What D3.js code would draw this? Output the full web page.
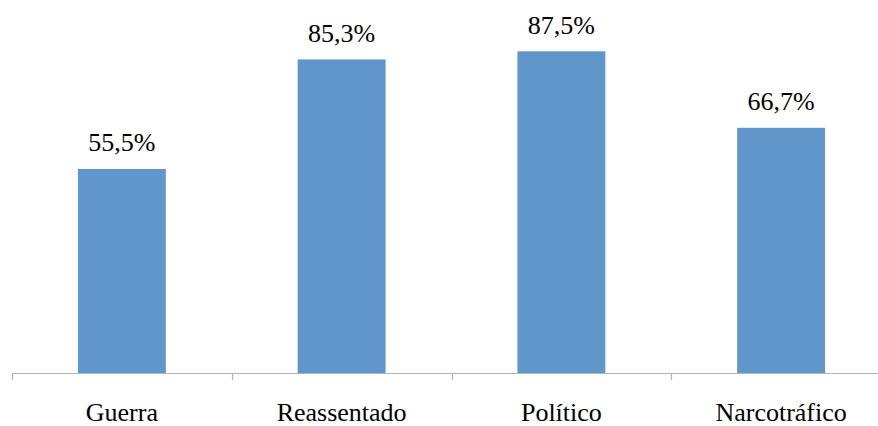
<!DOCTYPE html>
<html><head><meta charset="utf-8">
<script src="https://cdn.jsdelivr.net/npm/d3@7"></script>
<style>body{margin:0;background:#fff}svg{display:block}</style>
</head><body>
<script>
const categories = ["Guerra", "Reassentado", "Político", "Narcotráfico"];
const values = [55.5, 85.3, 87.5, 66.7];
const labels = ["55,5%", "85,3%", "87,5%", "66,7%"];

const W = 878, H = 426;
const FONT = "Liberation Serif";
const svg = d3.select("body").append("svg").attr("width", W).attr("height", H);
const x = d3.scaleBand().domain(categories).range([12, 891]).paddingInner(0).paddingOuter(0);
const y = d3.scaleLinear().domain([0, 100]).range([373, 5.4]);

const barW = x.bandwidth() * 0.4;
svg.selectAll("rect.bar").data(values).join("rect")
  .attr("class", "bar")
  .attr("x", (d, i) => x(categories[i]) + (x.bandwidth() - barW) / 2)
  .attr("y", d => y(d))
  .attr("width", barW)
  .attr("height", d => y(0) - y(d))
  .attr("fill", "#6096C9");

const axis = d3.axisBottom(x).tickSize(0).tickSizeOuter(0).tickFormat("");
const g = svg.append("g").attr("transform", `translate(0,${y(0)})`).call(axis);
g.select(".domain").attr("stroke", "#b3b3b3").attr("stroke-width", 1.2);
g.selectAll(".tick").remove();
const bounds = categories.map(c => x(c)).concat([x.range()[1]]);
g.selectAll("line.b").data(bounds).join("line")
  .attr("class", "b")
  .attr("x1", d => Math.round(d) + 0.5).attr("x2", d => Math.round(d) + 0.5)
  .attr("y1", 0).attr("y2", 7).attr("stroke", "#b3b3b3").attr("stroke-width", 1.2);

const cats = svg.selectAll("text.cat").data(categories).join("text")
  .attr("class", "cat")
  .attr("x", d => x(d) + x.bandwidth() / 2)
  .attr("y", 421)
  .attr("text-anchor", "middle")
  .style("font-family", FONT)
  .style("font-size", "26px")
  .attr("fill", "#000")
  .text(d => d);

const vals = svg.selectAll("text.val").data(values).join("text")
  .attr("class", "val")
  .attr("x", (d, i) => x(categories[i]) + x.bandwidth() / 2)
  .attr("y", d => y(d) - 17.5)
  .attr("text-anchor", "middle")
  .style("font-family", FONT)
  .style("font-size", "26px")
  .attr("fill", "#000")
  .text((d, i) => labels[i]);

// warm up font matching (same steps that rendered the serif face reliably)
const n = cats.node();
const probe = svg.append("text").attr("x", -1000).attr("y", -1000)
  .style("font-family", "DejaVu Sans").style("font-size", "14px")
  .text("w=" + n.getComputedTextLength().toFixed(1) + " ff=" + getComputedStyle(n).fontFamily);
probe.node().getComputedTextLength();
probe.remove();

function reapply() {
  svg.selectAll("text.cat, text.val").style("font-family", FONT).style("font-size", "26px");
}
if (document.fonts && document.fonts.load) {
  document.fonts.load("26px 'Liberation Serif'").then(reapply);
}
</script>
</body></html>
